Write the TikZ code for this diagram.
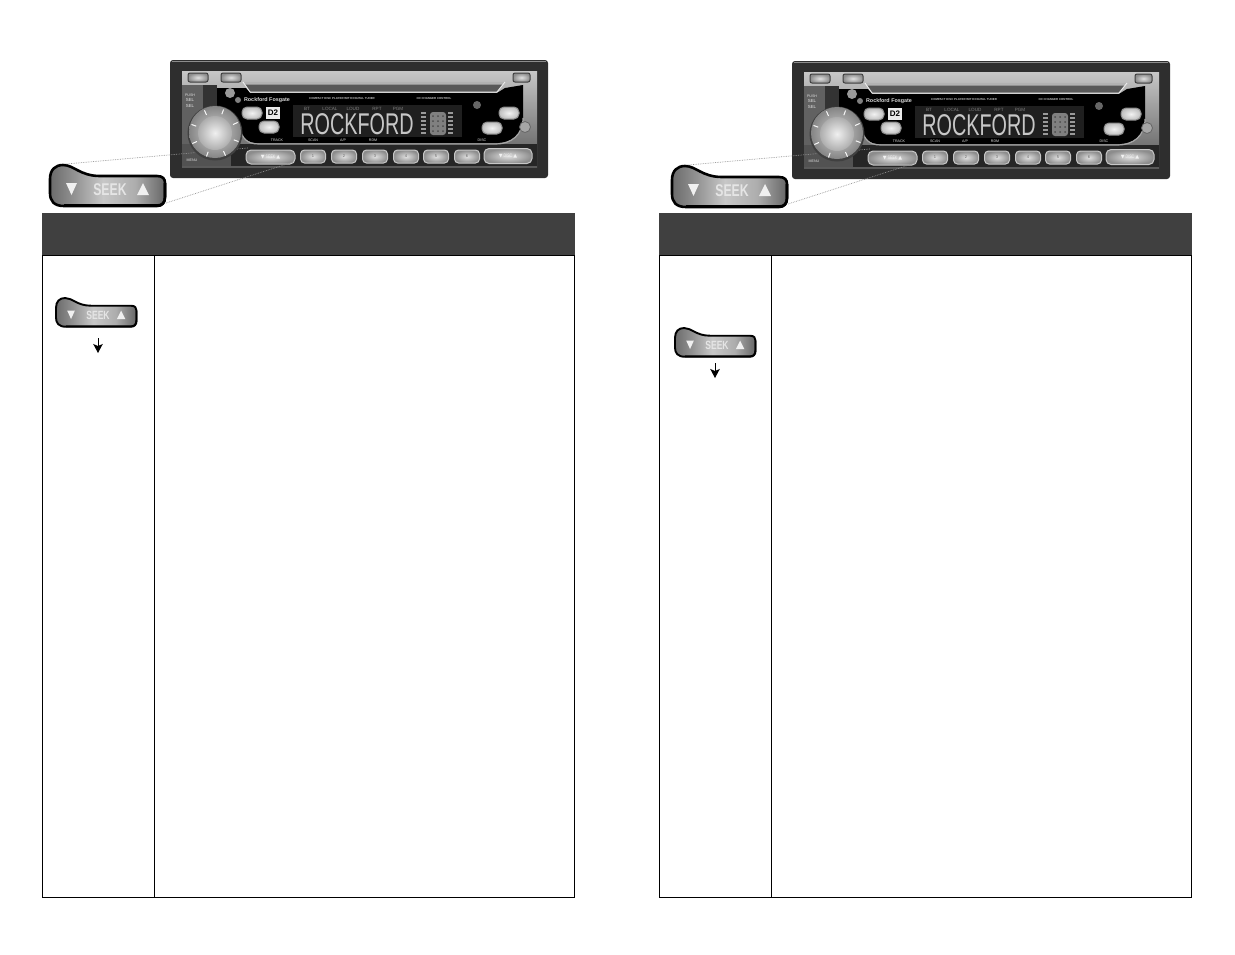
\documentclass[tikz,border=0pt]{standalone}
\usepackage{fontspec}
\setmainfont{Liberation Sans}
\newfontfamily\lcdfont[FakeStretch=.66]{Liberation Sans}
\newfontfamily\seekfont[FakeStretch=.72]{Liberation Sans}
\newfontfamily\glyphfont{DejaVu Sans}
\usetikzlibrary{arrows.meta,positioning}
\pgfdeclarehorizontalshading{seekface}{100bp}{color(0bp)=(black!58); color(25bp)=(black!58); color(36bp)=(black!42); color(48bp)=(black!22); color(62bp)=(black!32); color(75bp)=(black!60); color(100bp)=(black!60)}
\definecolor{headgray}{HTML}{404040}
\tikzset{
  headbar/.style={fill=headgray,minimum width=533pt,minimum height=42pt,inner sep=0pt,outer sep=0pt},
  sidecell/.style={draw=black,line width=.9pt,minimum width=112pt,minimum height=642pt,inner sep=0pt,outer sep=0pt},
  maincell/.style={draw=black,line width=.9pt,minimum width=420pt,minimum height=642pt,inner sep=0pt,outer sep=0pt},
  zoomline/.style={draw=black!42,line width=.7pt,densely dotted},
  keycap/.style={rounded corners=4pt,draw=black!22,line width=1pt,inner color=black!12,outer color=black!45,minimum width=25pt,minimum height=13pt,inner sep=0pt,text=black!60,font=\fontsize{4}{4}\selectfont},
  oval/.style={rounded corners=5pt,draw=black!45,line width=1pt,inner color=black!5,outer color=black!25,minimum width=20pt,minimum height=12pt,inner sep=0pt},
  tinylabel/.style={inner sep=0pt,text=black!12,font=\fontsize{3.6}{4}\selectfont},
  pics/seekbtn/.style={code={
    \path[draw=black,shade,shading=seekface] (0,14) .. controls (0,5) and (5,0) .. (13,0) .. controls (24,0) and (30,11) .. (50,11) -- (107,11) .. controls (113,11) and (115,14) .. (115,18) -- (115,32) .. controls (115,38) and (112,41) .. (107,41) -- (14,41) .. controls (4,41) and (0,36) .. (0,28) -- cycle;
    \draw[black] (115,18) -- (115,32) .. controls (115,38) and (112,40.5) .. (107,40.5) -- (14,40.5);
    \fill[black!6] (16,18) -- (27,18) -- (21.5,30) -- cycle;
    \fill[black!6] (87,30) -- (99,30) -- (93,18) -- cycle;
    \node[transform shape,inner sep=0pt,text=black!10,font=\seekfont\bfseries\fontsize{17}{17}\selectfont] (-label) at (60,25) {SEEK};
    \coordinate (-ul) at (16,-1);
    \coordinate (-lr) at (116,38);
  }},
  pics/faceplate/.style={code={
    \fill[black!82,rounded corners=3pt] (-1,0) rectangle (377,118);
    \draw[black!45,line width=1pt] (1,1) -- (375,1);
    \fill[top color=black!22,bottom color=black!65] (11,11) rectangle (366,107);
    \fill[black!62] (11,25) rectangle (32,84);
    % row of keys under the panel
    \fill[black!85] (60,84) rectangle (366,106);
    \fill[black!68] (11,84) rectangle (60,106);
    \fill[black!80] (32,25) rectangle (46,75);
    % slot
    \fill[black!65] (72,22) -- (334,22) -- (326,32) -- (79,32) -- cycle;
    \fill[black!30] (72,22) -- (334,22) -- (332,24.5) -- (74,24.5) -- cycle;
    \draw[black!8,line width=1pt] (72,22) -- (79,32) -- (326,32) -- (334,22);
    % black panel
    \fill[black] (46,28) -- (75,28) -- (79,33) -- (326,33) -- (334,28) -- (352,25) -- (352,58) .. controls (352,75) and (340,83) .. (325,83) -- (88,83) .. controls (75,83) and (72,78) .. (68,68) -- (46,68) -- cycle;
    \draw[black!35,line width=1.2pt] (352,58) .. controls (352,75) and (340,84) .. (325,84) -- (88,84) .. controls (75,84) and (72,78) .. (68,68);
    \fill[black!88] (122,45) rectangle (291,77);
    \node[keycap,draw=black!75,minimum width=20pt,minimum height=9pt,rounded corners=2pt] (-open) at (27,17.5) {};
    \node[keycap,draw=black!75,minimum width=20pt,minimum height=9pt,rounded corners=2pt] (-eject) at (60,17.5) {};
    \node[keycap,draw=black!75,minimum width=17pt,minimum height=9pt,rounded corners=2pt] (-pwr) at (350.5,17.5) {};
    \node[oval] (-ovala) at (81,53) {};
    \node[oval] (-ovalb) at (98,67) {};
    \node[oval] (-ovalc) at (338,53) {};
    \node[oval] (-ovald) at (321,68) {};
    \fill[black!40] (59,33) circle (5);
    \fill[black!50] (67,40) circle (3);
    \fill[black!60] (306,45) circle (4);
    \draw[black!60,fill=black!35,line width=.8pt] (354,67) circle (5.5);
    \node[inner sep=0pt,text=black!15,font=\bfseries\fontsize{5.4}{6}\selectfont] (-logo) at (96,40) {Rockford Fosgate};
    \node[fill=black!8,minimum width=14pt,minimum height=12pt,inner sep=0pt,text=black,font=\bfseries\fontsize{8}{8}\selectfont] (-badge) at (102,53) {D2};
    \node[tinylabel,text=black!25,font=\bfseries\fontsize{2.9}{3}\selectfont] (-tunertag) at (171,38) {COMPACT DISC PLAYER WITH DIGITAL TUNER};
    \node[tinylabel,text=black!25,font=\bfseries\fontsize{2.9}{3}\selectfont] (-changertag) at (263,38) {CD CHANGER CONTROL};
    \foreach \x/\t in {136/BT,159/LOCAL,182/LOUD,206/RPT,227/PGM}
      \node[tinylabel,text=black!50,font=\fontsize{4.6}{5}\selectfont] (-ind\t) at (\x,49) {\t};
    \node[inner sep=0pt,text=black!22,font=\lcdfont\fontsize{30}{30}\selectfont] (-lcd) at (186,64) {ROCKFORD};
    % spectrum
    \foreach \y in {52,56,60,64,68,72} {
      \fill[black!40] (250,\y) rectangle (255,\y+2);
      \fill[black!40] (277,\y) rectangle (282,\y+2);
    }
    \fill[black!50,rounded corners=3pt] (259,52) rectangle (275,75);
    \foreach \x in {262,267,272} \foreach \y in {56,61,66,71}
      \fill[black!70] (\x,\y) circle (1);
    \foreach \x/\t in {106/TRACK,142/SCAN,172/A\slash P,202/RDM,311/DISC}
      \node[tinylabel] at (\x,80) {\t};
    \node[tinylabel] (-push) at (19,35) {PUSH};
    \node[tinylabel,font=\fontsize{4.4}{5}\selectfont] (-sela) at (19,40) {SEL};
    \node[tinylabel,font=\fontsize{4.4}{5}\selectfont] (-selb) at (19,46) {SEL};
    \node[tinylabel] (-menu) at (21,100) {MENU};
    \node[keycap,minimum width=49pt,minimum height=14pt,rounded corners=5pt,text=black!5,font=\seekfont\fontsize{5}{5}\selectfont] (-seek) at (99.5,97) {{\glyphfont ▼} SEEK {\glyphfont ▲}};
    \foreach \n/\x in {1/142,2/173,3/204,4/235,5/265,6/296}
      \node[keycap] (-pre\n) at (\x,96.5) {\n};
    \node[keycap,minimum width=48pt,minimum height=15pt,rounded corners=5pt,text=black!5,font=\seekfont\fontsize{5}{5}\selectfont] (-disc) at (337,96) {{\glyphfont ▼} DISC {\glyphfont ▲}};
    \coordinate (-ul) at (77,88);
    \coordinate (-lr) at (122,102);
  }},
  pics/dial/.style={code={
    \fill[black!75] (0,0) circle (27.5);
    \shade[inner color=black!18,outer color=black!48] (0,-1) circle (26);
    \foreach \a in {20,65,110,155,200,245,290,335}
      \draw[black!3,line width=1pt] (\a:20) -- (\a:25);
    \shade[inner color=black!6,outer color=black!32] (0,0) circle (17);
  }}
}
\begin{document}
\begin{tikzpicture}[x=1pt,y=-1pt,node distance=0pt]
  \useasboundingbox (0,0) rectangle (1235,954);
  \foreach \pg/\tx/\fx/\fy/\sx/\sy/\ax/\ay in {L/0/0/0/56/298/98/338,R/617/622/1/675/328/715/363} {
    \node[headbar,anchor=north west] (head\pg) at (42+\tx,213) {};
    \coordinate (corner\pg) at (42.5+\tx,255.5);
    \node[sidecell,below right=of corner\pg] (side\pg) {};
    \node[maincell,right=of side\pg] (main\pg) {};
    \pic (plate\pg) at (171+\fx,60+\fy) {faceplate};
    \pic[line width=2.6pt] (big\pg) at (50+\fx,165+\fy) {seekbtn};
    \draw[zoomline] (big\pg-ul) -- (plate\pg-ul);
    \draw[zoomline] (big\pg-lr) -- (plate\pg-lr);
    \pic (dial\pg) at (215+\fx,133+\fy) {dial};
    \pic[scale=.7,line width=1.9pt] (small\pg) at (\sx,\sy) {seekbtn};
    \coordinate (tail\pg) at (\ax,\ay);
    \coordinate (tip\pg) at (\ax,\ay+15);
    \draw[line width=1pt,-{Stealth[length=9pt,width=9.5pt,inset=2pt]}] (tail\pg) -- (tip\pg);
  }
\end{tikzpicture}
\end{document}
